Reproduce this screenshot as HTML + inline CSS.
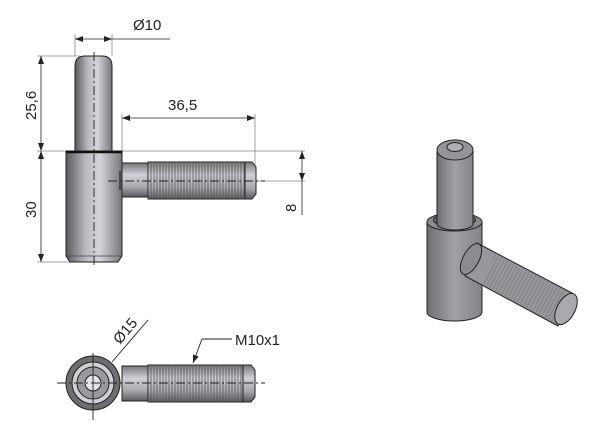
<!DOCTYPE html>
<html><head><meta charset="utf-8"><style>
html,body{margin:0;padding:0;background:#fff;}
svg{display:block;}
text{font-family:"Liberation Sans",sans-serif;fill:#222;}
</style></head><body>
<svg width="600" height="430" viewBox="0 0 600 430" xmlns="http://www.w3.org/2000/svg">
<defs>
<linearGradient id="cyl" x1="0" x2="1" y1="0" y2="0">
<stop offset="0" stop-color="#5a5a5e"/><stop offset="0.35" stop-color="#b8b8be"/><stop offset="0.6" stop-color="#d4d4da"/><stop offset="1" stop-color="#77777c"/></linearGradient>
<linearGradient id="cylv" x1="0" x2="0" y1="0" y2="1">
<stop offset="0" stop-color="#77777c"/><stop offset="0.35" stop-color="#d0d0d6"/><stop offset="0.7" stop-color="#a8a8ae"/><stop offset="1" stop-color="#5a5a5e"/></linearGradient>
<linearGradient id="iso" x1="0" x2="1" y1="0" y2="0">
<stop offset="0" stop-color="#707074"/><stop offset="0.5" stop-color="#a2a2a6"/><stop offset="1" stop-color="#848488"/></linearGradient>
<pattern id="thr" width="3" height="10" patternUnits="userSpaceOnUse"><line x1="1" y1="0" x2="1" y2="10" stroke="#555" stroke-width="0.8"/></pattern>
<pattern id="thr2" width="3.5" height="4" patternUnits="userSpaceOnUse" patternTransform="rotate(28)"><line x1="0" y1="0" x2="0" y2="4" stroke="#666" stroke-width="0.8"/></pattern>
<marker id="ar" markerWidth="8" markerHeight="6" refX="8" refY="3" orient="auto-start-reverse" markerUnits="userSpaceOnUse"><path d="M0,0 L8,3 L0,6 z" fill="#222"/></marker>
</defs>

<!-- ===== FRONT VIEW ===== -->
<g stroke="#888" stroke-width="0.8" fill="none">
<line x1="75" y1="34" x2="75" y2="56"/><line x1="112" y1="34" x2="112" y2="56"/>
<line x1="37" y1="56" x2="80" y2="56"/>
<line x1="37" y1="151" x2="305" y2="151"/>
<line x1="37" y1="262" x2="70" y2="262"/>
<line x1="122" y1="114" x2="122" y2="160"/><line x1="255" y1="114" x2="255" y2="180"/>
<line x1="255" y1="181" x2="305" y2="181"/>
</g>
<g stroke="#222" stroke-width="0.8" fill="none">
<line x1="75" y1="39" x2="112" y2="39" marker-start="url(#ar)" marker-end="url(#ar)"/>
<line x1="112" y1="39" x2="170" y2="39"/>
<line x1="41" y1="56" x2="41" y2="151" marker-start="url(#ar)" marker-end="url(#ar)"/>
<line x1="41" y1="151" x2="41" y2="262" marker-start="url(#ar)" marker-end="url(#ar)"/>
<line x1="122" y1="118" x2="255" y2="118" marker-start="url(#ar)" marker-end="url(#ar)"/>
<line x1="302" y1="151" x2="302" y2="181" marker-start="url(#ar)" marker-end="url(#ar)"/>
<line x1="302" y1="181" x2="302" y2="215"/>
</g>
<text x="133" y="30" font-size="15">Ø10</text>
<text x="168" y="110" font-size="15">36,5</text>
<text transform="translate(36,120) rotate(-90)" font-size="15">25,6</text>
<text transform="translate(36,218) rotate(-90)" font-size="15">30</text>
<text transform="translate(296,212) rotate(-90)" font-size="15">8</text>

<path d="M75,151 L75,66 Q75,56 85,56 L102,56 Q112,56 112,66 L112,151 z" fill="url(#cyl)" stroke="#222" stroke-width="1"/>
<path d="M66,151 L122,151 L122,256 L118,262 L70,262 L66,256 z" fill="url(#cyl)" stroke="#222" stroke-width="1"/>
<line x1="66" y1="152" x2="122" y2="152" stroke="#111" stroke-width="2.5"/>
<line x1="67" y1="256" x2="121" y2="256" stroke="#444" stroke-width="0.8"/>
<rect x="122" y="163" width="26" height="34" fill="url(#cylv)" stroke="#222" stroke-width="1"/>
<rect x="148" y="162" width="97" height="37" fill="url(#cylv)" stroke="#222" stroke-width="1"/>
<rect x="148" y="162" width="97" height="37" fill="url(#thr)"/>
<path d="M245,162 L252,162 L256,167 L256,194 L252,199 L245,199 z" fill="url(#cylv)" stroke="#222" stroke-width="1"/>
<line x1="120" y1="171" x2="120" y2="190" stroke="#222" stroke-width="1.2"/>
<g stroke="#222" stroke-width="0.9" stroke-dasharray="9,3,2,3">
<line x1="94" y1="52" x2="94" y2="268"/>
<line x1="108" y1="181" x2="265" y2="181"/>
</g>

<!-- ===== BOTTOM VIEW ===== -->
<rect x="122" y="366" width="26" height="35" fill="url(#cylv)" stroke="#222" stroke-width="1"/>
<rect x="148" y="365" width="95" height="37" fill="url(#cylv)" stroke="#222" stroke-width="1"/>
<rect x="148" y="365" width="95" height="37" fill="url(#thr)"/>
<path d="M243,365 L251,365 L255,370 L255,397 L251,402 L243,402 z" fill="url(#cylv)" stroke="#222" stroke-width="1"/>
<circle cx="93" cy="383" r="27" fill="#6e6e72" stroke="#222" stroke-width="1"/>
<circle cx="93" cy="383" r="21" fill="#d0d0d4" stroke="#222" stroke-width="1"/>
<circle cx="93" cy="383" r="16" fill="#9a9a9e" stroke="#222" stroke-width="1"/>
<circle cx="93" cy="383" r="8" fill="#e4e4e8" stroke="#222" stroke-width="1"/>
<g stroke="#222" stroke-width="0.9">
<line x1="57" y1="383" x2="265" y2="383" stroke-dasharray="9,3,2,3"/>
<line x1="93" y1="353" x2="93" y2="420"/>
<line x1="112" y1="362" x2="148" y2="320"/>
<line x1="193" y1="363" x2="202" y2="339" marker-start="url(#ar)"/>
<line x1="202" y1="339" x2="232" y2="339"/>
</g>
<text transform="translate(120,345) rotate(-50)" font-size="15">Ø15</text>
<text x="235" y="345" font-size="15">M10x1</text>

<!-- ===== ISOMETRIC ===== -->
<g stroke="#222" stroke-width="1">
<path d="M427,222 L427,312 A27.5,9 0 0 0 482,312 L482,222 z" fill="url(#iso)"/>
<ellipse cx="454.5" cy="222" rx="27.5" ry="9" fill="#8a8a8e"/>
<ellipse cx="454.5" cy="220" rx="21" ry="6.5" fill="#6a6a6e"/>
<path d="M437,152 L437,224 A18,6 0 0 0 473,224 L473,152 z" fill="url(#iso)"/>
<ellipse cx="455" cy="150" rx="18" ry="10" fill="#949498"/>
<ellipse cx="455" cy="147" rx="8" ry="4.5" fill="#b0b0b4"/>
<!-- shaft -->
<path d="M477,243 L572,293 L558,326 L465,276 z" fill="#98989c"/>
<path d="M495,253 L566,291 L554,323 L482,285 z" fill="url(#thr2)" stroke="none"/>
<ellipse cx="471" cy="259" rx="8" ry="17" transform="rotate(28 471 259)" fill="#8c8c90"/>
<ellipse cx="566" cy="309" rx="9" ry="17" transform="rotate(28 566 309)" fill="#aaaaae"/>
</g>
</svg>
</body></html>
